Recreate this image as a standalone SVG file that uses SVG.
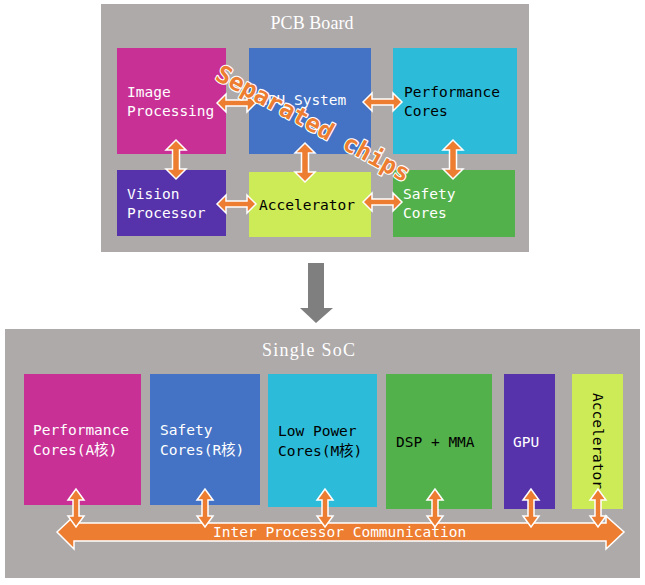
<svg xmlns="http://www.w3.org/2000/svg" width="645" height="585" viewBox="0 0 645 585">
<style>
.panel{fill:#AEAAAA}
.title{font-family:"Liberation Serif","DejaVu Serif",serif;font-size:18px;fill:#FFFFFF}
.t{font-family:"DejaVu Sans Mono","Noto Sans CJK SC",monospace;font-size:14.5px}
.w{fill:#FFFFFF}
.k{fill:#000000}
.arr{fill:#ED7D31;stroke:#FFFFFF;stroke-width:1.5;stroke-linejoin:miter}
.wm{font-family:"DejaVu Sans Mono",monospace;font-size:24px;font-weight:bold;fill:#ED7D31;stroke:#FFFFFF;stroke-width:2.2;paint-order:stroke;stroke-linejoin:round}
</style>
<defs>
<polygon id="hArr" points="0,0 9,-9 9,-3 30,-3 30,-9 39,0 30,9 30,3 9,3 9,9"/>
<polygon id="vArr" points="0,0 -10,10 -3.5,10 -3.5,29 -10,29 0,39 10,29 3.5,29 3.5,10 10,10"/>
<polygon id="vSmall" points="0,0 -8,11 -3,11 -3,27 -8,27 0,38 8,27 3,27 3,11 8,11"/>
</defs>

<g id="pcb-board">
<rect class="panel" x="101" y="4" width="428" height="248"/>
<text class="title" x="312" y="29" text-anchor="middle" textLength="83">PCB Board</text>
</g>

<g id="node-image-processing">
<rect x="117" y="48" width="109" height="106" fill="#C83096"/>
<text class="t w" x="127" y="97">Image</text>
<text class="t w" x="127" y="116">Processing</text>
</g>
<g id="node-cpu-system">
<rect x="249" y="48" width="122" height="106" fill="#4472C4"/>
<text class="t w" x="259" y="105">CPU System</text>
</g>
<g id="node-performance-cores-top">
<rect x="393" y="48" width="124" height="106" fill="#2CBCD9"/>
<text class="t k" x="404" y="97">Performance</text>
<text class="t k" x="404" y="116">Cores</text>
</g>
<g id="node-vision-processor">
<rect x="117" y="170" width="109" height="66" fill="#5632AB"/>
<text class="t w" x="127" y="199">Vision</text>
<text class="t w" x="127" y="218">Processor</text>
</g>
<g id="node-accelerator-top">
<rect x="249" y="172" width="122" height="65" fill="#CDEB57"/>
<text class="t k" x="259" y="210">Accelerator</text>
</g>
<g id="node-safety-cores-top">
<rect x="393" y="170" width="122" height="67" fill="#53B14B"/>
<text class="t w" x="403" y="199">Safety</text>
<text class="t w" x="403" y="218">Cores</text>
</g>

<g id="connectors-top">
<use href="#hArr" class="arr" x="217" y="103"/>
<use href="#hArr" class="arr" x="363" y="102"/>
<use href="#hArr" class="arr" x="217" y="204"/>
<use href="#hArr" class="arr" x="363" y="202"/>
<use href="#vArr" class="arr" x="176" y="140"/>
<use href="#vArr" class="arr" x="305" y="143"/>
<use href="#vArr" class="arr" x="453" y="140"/>
</g>

<g id="label-separated-chips">
<text class="wm" x="214" y="79" transform="rotate(28.5 214 79)">Separated chips</text>
</g>

<g id="transition-arrow">
<polygon points="308,263 324,263 324,308 333,308 316,323 300,308 308,308" fill="#7F7F7F"/>
</g>

<g id="single-soc">
<rect class="panel" x="5" y="329" width="635" height="249"/>
<text class="title" x="308.5" y="356" text-anchor="middle" textLength="93">Single SoC</text>
</g>

<g id="node-performance-cores">
<rect x="24" y="374" width="117" height="131" fill="#C83096"/>
<text class="t w" x="33" y="435">Performance</text>
<text class="t w" x="33" y="455">Cores(A核)</text>
</g>
<g id="node-safety-cores">
<rect x="150" y="374" width="110" height="131" fill="#4472C4"/>
<text class="t w" x="160" y="435">Safety</text>
<text class="t w" x="160" y="455">Cores(R核)</text>
</g>
<g id="node-low-power-cores">
<rect x="268" y="374" width="109" height="133" fill="#2CBCD9"/>
<text class="t k" x="278" y="436">Low Power</text>
<text class="t k" x="278" y="456">Cores(M核)</text>
</g>
<g id="node-dsp-mma">
<rect x="386" y="374" width="106" height="135" fill="#53B14B"/>
<text class="t k" x="396" y="447">DSP + MMA</text>
</g>
<g id="node-gpu">
<rect x="504" y="374" width="51" height="135" fill="#5632AB"/>
<text class="t w" x="513" y="447">GPU</text>
</g>
<g id="node-accelerator">
<rect x="572" y="374" width="51" height="135" fill="#CDEB57"/>
<text class="t k" x="593" y="393" transform="rotate(90 593 393)">Accelerator</text>
</g>

<g id="connectors-bottom">
<g id="bus-ipc">
<polygon class="arr" points="57,532 74,516 74,523 606,523 606,516 624,532 606,549 606,541 74,541 74,549"/>
<text class="t w" x="213" y="537">Inter Processor Communication</text>
</g>
<use href="#vSmall" class="arr" x="76" y="489"/>
<use href="#vSmall" class="arr" x="205" y="489"/>
<use href="#vSmall" class="arr" x="325" y="489"/>
<use href="#vSmall" class="arr" x="435" y="489"/>
<use href="#vSmall" class="arr" x="531" y="489"/>
<use href="#vSmall" class="arr" x="598" y="489"/>
</g>
</svg>
